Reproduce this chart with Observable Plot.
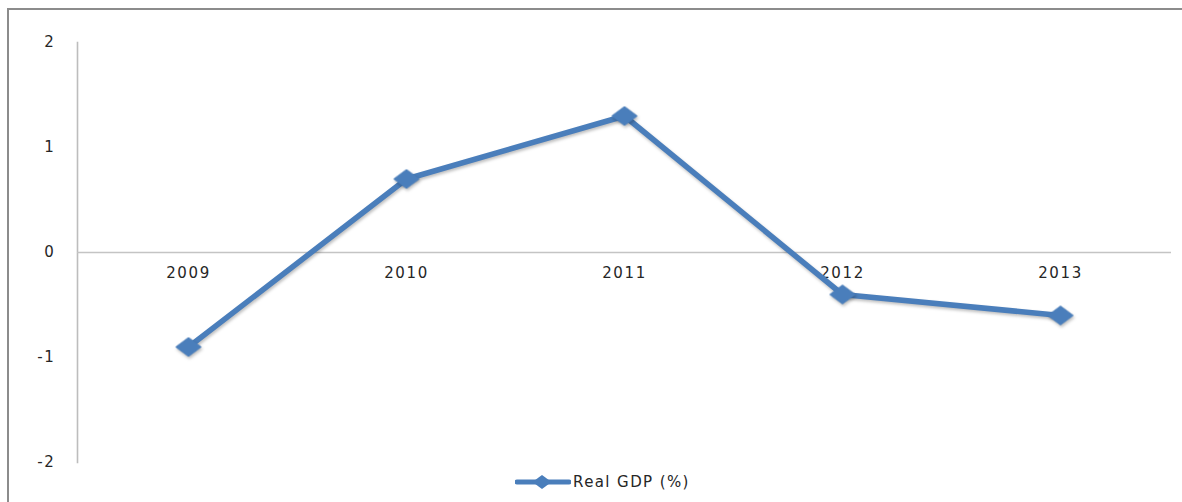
<!DOCTYPE html>
<html>
<head>
<meta charset="utf-8">
<script src="https://cdn.jsdelivr.net/npm/d3@7"></script>
<script src="https://cdn.jsdelivr.net/npm/@observablehq/plot@0.6"></script>
<style>
  html, body { margin: 0; padding: 0; background: #fff; overflow: hidden; }
  #frame { position: absolute; left: 7px; top: 8px; width: 1200px; height: 520px; border: 2px solid #8c8c8c; box-sizing: border-box; background: #fff; }
  #chart { position: absolute; left: 0; top: 0; }
  #chart svg text { letter-spacing: 1.6px; }
  #chart g[aria-label="line"], #chart g[aria-label="dot"] { filter: drop-shadow(1px 2px 1.5px rgba(0,0,0,0.25)); }
  #legend { position: absolute; left: 506px; top: 461px; height: 22px; display: flex; align-items: center; font-family: "DejaVu Sans", sans-serif; font-size: 15px; color: #262626; letter-spacing: 1.4px; }
</style>
</head>
<body>
<div id="frame">
  <div id="chart"></div>
  <div id="legend"></div>
</div>
<script>
const years = ["2009", "2010", "2011", "2012", "2013"];
const realGDP = [-0.9, 0.7, 1.3, -0.4, -0.6];
const yTicks = [-2, -1, 0, 1, 2];
const seriesName = "Real GDP (%)";
const lineColor = "#4a7ebb";

const data = years.map((year, i) => ({year, value: realGDP[i]}));

// wide diamond (reference is horizontally stretched)
const wideDiamond = {
  draw(context, size) {
    const r = Math.sqrt(size / 2);
    context.moveTo(-r * 1.35, 0);
    context.lineTo(0, -r);
    context.lineTo(r * 1.35, 0);
    context.lineTo(0, r);
    context.closePath();
  }
};

const chart = Plot.plot({
  width: 1180,
  height: 460,
  marginLeft: 68,
  marginRight: 18,
  marginTop: 32,
  marginBottom: 8,
  style: {fontFamily: "DejaVu Sans, sans-serif", fontSize: "15px", color: "#262626", background: "transparent"},
  x: {type: "point", domain: years, padding: 0.5, axis: null},
  y: {domain: [-2, 2], ticks: yTicks, label: null},
  marks: [
    Plot.frame({anchor: "left", stroke: "#bdbdbd", strokeWidth: 1.6, strokeOpacity: 1}),
    Plot.ruleY([0], {stroke: "#c4c4c4", strokeWidth: 1.6}),
    Plot.axisY({ticks: yTicks, tickSize: 0, tickPadding: 22, tickFormat: d => String(d), label: null, fill: "#262626", fontSize: 15}),
    Plot.text(years, {x: d => d, y: () => 0, dy: 21, text: d => d, fill: "#262626", fontSize: 15}),
    Plot.line(data, {x: "year", y: "value", stroke: lineColor, strokeWidth: 5.5, strokeLinejoin: "round"}),
    Plot.dot(data, {x: "year", y: "value", symbol: wideDiamond, r: 7.5, fill: lineColor, stroke: lineColor, strokeWidth: 1})
  ]
});
document.getElementById("chart").appendChild(chart);

// legend
const legend = document.getElementById("legend");
const ls = d3.create("svg").attr("width", 56).attr("height", 22);
ls.append("line").attr("x1", 2).attr("x2", 54).attr("y1", 11).attr("y2", 11)
  .attr("stroke", lineColor).attr("stroke-width", 5).attr("stroke-linecap", "round");
ls.append("path").attr("d", d3.symbol(wideDiamond, 100)()).attr("transform", "translate(27,11)").attr("fill", lineColor);
legend.appendChild(ls.node());
const lt = document.createElement("span");
lt.textContent = seriesName;
lt.style.marginLeft = "2px";
legend.appendChild(lt);
</script>
</body>
</html>
